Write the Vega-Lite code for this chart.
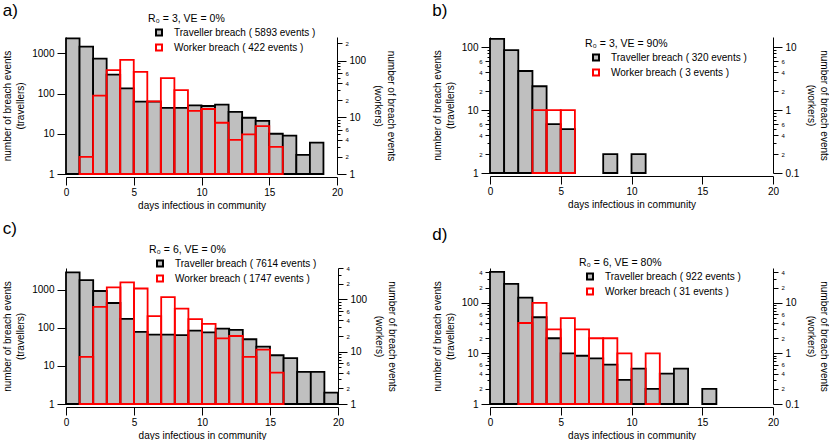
{
  "$schema": "https://vega.github.io/schema/vega-lite/v6.json",
  "padding": {"left": 2, "top": 2, "right": 0, "bottom": 0},
  "background": "white",
  "datasets": {
    "bins": [
      {"panel": "a", "series": "Traveller breach ( 5893 events )", "start": 0, "end": 1, "n": 2350},
      {"panel": "a", "series": "Traveller breach ( 5893 events )", "start": 1, "end": 2, "n": 1460},
      {"panel": "a", "series": "Traveller breach ( 5893 events )", "start": 2, "end": 3, "n": 735},
      {"panel": "a", "series": "Traveller breach ( 5893 events )", "start": 3, "end": 4, "n": 295},
      {"panel": "a", "series": "Traveller breach ( 5893 events )", "start": 4, "end": 5, "n": 135},
      {"panel": "a", "series": "Traveller breach ( 5893 events )", "start": 5, "end": 6, "n": 63},
      {"panel": "a", "series": "Traveller breach ( 5893 events )", "start": 6, "end": 7, "n": 63},
      {"panel": "a", "series": "Traveller breach ( 5893 events )", "start": 7, "end": 8, "n": 44},
      {"panel": "a", "series": "Traveller breach ( 5893 events )", "start": 8, "end": 9, "n": 44},
      {"panel": "a", "series": "Traveller breach ( 5893 events )", "start": 9, "end": 10, "n": 51},
      {"panel": "a", "series": "Traveller breach ( 5893 events )", "start": 10, "end": 11, "n": 49},
      {"panel": "a", "series": "Traveller breach ( 5893 events )", "start": 11, "end": 12, "n": 53},
      {"panel": "a", "series": "Traveller breach ( 5893 events )", "start": 12, "end": 13, "n": 35},
      {"panel": "a", "series": "Traveller breach ( 5893 events )", "start": 13, "end": 14, "n": 25},
      {"panel": "a", "series": "Traveller breach ( 5893 events )", "start": 14, "end": 15, "n": 21},
      {"panel": "a", "series": "Traveller breach ( 5893 events )", "start": 15, "end": 16, "n": 10},
      {"panel": "a", "series": "Traveller breach ( 5893 events )", "start": 16, "end": 17, "n": 9},
      {"panel": "a", "series": "Traveller breach ( 5893 events )", "start": 17, "end": 18, "n": 3},
      {"panel": "a", "series": "Traveller breach ( 5893 events )", "start": 18, "end": 19, "n": 6},
      {"panel": "a", "series": "Worker breach ( 422 events )", "start": 1, "end": 2, "n": 2},
      {"panel": "a", "series": "Worker breach ( 422 events )", "start": 2, "end": 3, "n": 24},
      {"panel": "a", "series": "Worker breach ( 422 events )", "start": 3, "end": 4, "n": 68},
      {"panel": "a", "series": "Worker breach ( 422 events )", "start": 4, "end": 5, "n": 103},
      {"panel": "a", "series": "Worker breach ( 422 events )", "start": 5, "end": 6, "n": 63},
      {"panel": "a", "series": "Worker breach ( 422 events )", "start": 6, "end": 7, "n": 19},
      {"panel": "a", "series": "Worker breach ( 422 events )", "start": 7, "end": 8, "n": 49},
      {"panel": "a", "series": "Worker breach ( 422 events )", "start": 8, "end": 9, "n": 30},
      {"panel": "a", "series": "Worker breach ( 422 events )", "start": 9, "end": 10, "n": 13},
      {"panel": "a", "series": "Worker breach ( 422 events )", "start": 10, "end": 11, "n": 14},
      {"panel": "a", "series": "Worker breach ( 422 events )", "start": 11, "end": 12, "n": 8},
      {"panel": "a", "series": "Worker breach ( 422 events )", "start": 12, "end": 13, "n": 4},
      {"panel": "a", "series": "Worker breach ( 422 events )", "start": 13, "end": 14, "n": 5},
      {"panel": "a", "series": "Worker breach ( 422 events )", "start": 14, "end": 15, "n": 7},
      {"panel": "a", "series": "Worker breach ( 422 events )", "start": 15, "end": 16, "n": 3},
      {"panel": "b", "series": "Traveller breach ( 320 events )", "start": 0, "end": 1, "n": 136},
      {"panel": "b", "series": "Traveller breach ( 320 events )", "start": 1, "end": 2, "n": 90},
      {"panel": "b", "series": "Traveller breach ( 320 events )", "start": 2, "end": 3, "n": 42},
      {"panel": "b", "series": "Traveller breach ( 320 events )", "start": 3, "end": 4, "n": 24},
      {"panel": "b", "series": "Traveller breach ( 320 events )", "start": 4, "end": 5, "n": 6},
      {"panel": "b", "series": "Traveller breach ( 320 events )", "start": 5, "end": 6, "n": 5},
      {"panel": "b", "series": "Traveller breach ( 320 events )", "start": 8, "end": 9, "n": 2},
      {"panel": "b", "series": "Traveller breach ( 320 events )", "start": 10, "end": 11, "n": 2},
      {"panel": "b", "series": "Worker breach ( 3 events )", "start": 3, "end": 4, "n": 1},
      {"panel": "b", "series": "Worker breach ( 3 events )", "start": 4, "end": 5, "n": 1},
      {"panel": "b", "series": "Worker breach ( 3 events )", "start": 5, "end": 6, "n": 1},
      {"panel": "c", "series": "Traveller breach ( 7614 events )", "start": 0, "end": 1, "n": 2835},
      {"panel": "c", "series": "Traveller breach ( 7614 events )", "start": 1, "end": 2, "n": 1787},
      {"panel": "c", "series": "Traveller breach ( 7614 events )", "start": 2, "end": 3, "n": 921},
      {"panel": "c", "series": "Traveller breach ( 7614 events )", "start": 3, "end": 4, "n": 447},
      {"panel": "c", "series": "Traveller breach ( 7614 events )", "start": 4, "end": 5, "n": 171},
      {"panel": "c", "series": "Traveller breach ( 7614 events )", "start": 5, "end": 6, "n": 78},
      {"panel": "c", "series": "Traveller breach ( 7614 events )", "start": 6, "end": 7, "n": 66},
      {"panel": "c", "series": "Traveller breach ( 7614 events )", "start": 7, "end": 8, "n": 66},
      {"panel": "c", "series": "Traveller breach ( 7614 events )", "start": 8, "end": 9, "n": 64},
      {"panel": "c", "series": "Traveller breach ( 7614 events )", "start": 9, "end": 10, "n": 84},
      {"panel": "c", "series": "Traveller breach ( 7614 events )", "start": 10, "end": 11, "n": 76},
      {"panel": "c", "series": "Traveller breach ( 7614 events )", "start": 11, "end": 12, "n": 95},
      {"panel": "c", "series": "Traveller breach ( 7614 events )", "start": 12, "end": 13, "n": 88},
      {"panel": "c", "series": "Traveller breach ( 7614 events )", "start": 13, "end": 14, "n": 50},
      {"panel": "c", "series": "Traveller breach ( 7614 events )", "start": 14, "end": 15, "n": 32},
      {"panel": "c", "series": "Traveller breach ( 7614 events )", "start": 15, "end": 16, "n": 19},
      {"panel": "c", "series": "Traveller breach ( 7614 events )", "start": 16, "end": 17, "n": 16},
      {"panel": "c", "series": "Traveller breach ( 7614 events )", "start": 17, "end": 18, "n": 7},
      {"panel": "c", "series": "Traveller breach ( 7614 events )", "start": 18, "end": 19, "n": 7},
      {"panel": "c", "series": "Traveller breach ( 7614 events )", "start": 19, "end": 20, "n": 2},
      {"panel": "c", "series": "Worker breach ( 1747 events )", "start": 1, "end": 2, "n": 8},
      {"panel": "c", "series": "Worker breach ( 1747 events )", "start": 2, "end": 3, "n": 72},
      {"panel": "c", "series": "Worker breach ( 1747 events )", "start": 3, "end": 4, "n": 171},
      {"panel": "c", "series": "Worker breach ( 1747 events )", "start": 4, "end": 5, "n": 213},
      {"panel": "c", "series": "Worker breach ( 1747 events )", "start": 5, "end": 6, "n": 162},
      {"panel": "c", "series": "Worker breach ( 1747 events )", "start": 6, "end": 7, "n": 48},
      {"panel": "c", "series": "Worker breach ( 1747 events )", "start": 7, "end": 8, "n": 111},
      {"panel": "c", "series": "Worker breach ( 1747 events )", "start": 8, "end": 9, "n": 67},
      {"panel": "c", "series": "Worker breach ( 1747 events )", "start": 9, "end": 10, "n": 42},
      {"panel": "c", "series": "Worker breach ( 1747 events )", "start": 10, "end": 11, "n": 34},
      {"panel": "c", "series": "Worker breach ( 1747 events )", "start": 11, "end": 12, "n": 18},
      {"panel": "c", "series": "Worker breach ( 1747 events )", "start": 12, "end": 13, "n": 20},
      {"panel": "c", "series": "Worker breach ( 1747 events )", "start": 13, "end": 14, "n": 8},
      {"panel": "c", "series": "Worker breach ( 1747 events )", "start": 14, "end": 15, "n": 11},
      {"panel": "c", "series": "Worker breach ( 1747 events )", "start": 15, "end": 16, "n": 4},
      {"panel": "d", "series": "Traveller breach ( 922 events )", "start": 0, "end": 1, "n": 409},
      {"panel": "d", "series": "Traveller breach ( 922 events )", "start": 1, "end": 2, "n": 237},
      {"panel": "d", "series": "Traveller breach ( 922 events )", "start": 2, "end": 3, "n": 127},
      {"panel": "d", "series": "Traveller breach ( 922 events )", "start": 3, "end": 4, "n": 52},
      {"panel": "d", "series": "Traveller breach ( 922 events )", "start": 4, "end": 5, "n": 20},
      {"panel": "d", "series": "Traveller breach ( 922 events )", "start": 5, "end": 6, "n": 10},
      {"panel": "d", "series": "Traveller breach ( 922 events )", "start": 6, "end": 7, "n": 9},
      {"panel": "d", "series": "Traveller breach ( 922 events )", "start": 7, "end": 8, "n": 8},
      {"panel": "d", "series": "Traveller breach ( 922 events )", "start": 8, "end": 9, "n": 6},
      {"panel": "d", "series": "Traveller breach ( 922 events )", "start": 9, "end": 10, "n": 3},
      {"panel": "d", "series": "Traveller breach ( 922 events )", "start": 10, "end": 11, "n": 5},
      {"panel": "d", "series": "Traveller breach ( 922 events )", "start": 11, "end": 12, "n": 2},
      {"panel": "d", "series": "Traveller breach ( 922 events )", "start": 12, "end": 13, "n": 4},
      {"panel": "d", "series": "Traveller breach ( 922 events )", "start": 13, "end": 14, "n": 5},
      {"panel": "d", "series": "Traveller breach ( 922 events )", "start": 15, "end": 16, "n": 2},
      {"panel": "d", "series": "Worker breach ( 31 events )", "start": 2, "end": 3, "n": 4},
      {"panel": "d", "series": "Worker breach ( 31 events )", "start": 3, "end": 4, "n": 10},
      {"panel": "d", "series": "Worker breach ( 31 events )", "start": 4, "end": 5, "n": 3},
      {"panel": "d", "series": "Worker breach ( 31 events )", "start": 5, "end": 6, "n": 5},
      {"panel": "d", "series": "Worker breach ( 31 events )", "start": 6, "end": 7, "n": 3},
      {"panel": "d", "series": "Worker breach ( 31 events )", "start": 7, "end": 8, "n": 2},
      {"panel": "d", "series": "Worker breach ( 31 events )", "start": 8, "end": 9, "n": 2},
      {"panel": "d", "series": "Worker breach ( 31 events )", "start": 9, "end": 10, "n": 1},
      {"panel": "d", "series": "Worker breach ( 31 events )", "start": 11, "end": 12, "n": 1}
    ]
  },
  "data": {"name": "bins"},
  "columns": 2,
  "spacing": {"row": 10, "column": 35},
  "concat": [
    {
      "title": {"text": "a)", "offset": -6},
      "width": 271,
      "height": 137,
      "transform": [{"filter": "datum.panel === 'a'"}],
      "encoding": {
        "x": {"field": "start", "type": "quantitative", "scale": {"domain": [0, 20], "nice": false}, "axis": {"values": [0, 5, 10, 15, 20], "title": "days infectious in community"}},
        "x2": {"field": "end"},
        "fill": {"field": "series", "type": "nominal", "scale": {"range": ["#bfbfbf", "transparent"]}, "legend": {"orient": "none", "legendX": 82, "legendY": -23, "title": "R₀ = 3, VE = 0%", "encode": {"symbols": {"update": {"fill": {"signal": "indexof(datum.value, 'Traveller') === 0 ? '#bfbfbf' : 'white'"}}}}}},
        "stroke": {"field": "series", "type": "nominal", "scale": {"range": ["black", "red"]}, "legend": {"orient": "none", "legendX": 82, "legendY": -23, "title": "R₀ = 3, VE = 0%", "encode": {"symbols": {"update": {"fill": {"signal": "indexof(datum.value, 'Traveller') === 0 ? '#bfbfbf' : 'white'"}}}}}}
      },
      "layer": [
        {
          "transform": [{"filter": "indexof(datum.series, 'Traveller') === 0"}],
          "mark": {"type": "rect", "strokeWidth": 1.8},
          "encoding": {
            "y": {"field": "n", "type": "quantitative", "scale": {"type": "log", "domain": [1, 2540], "nice": false}, "axis": {"orient": "left", "values": [1, 10, 100, 1000], "title": ["number of breach events", "(travellers)"]}},
            "y2": {"datum": 1}
          }
        },
        {
          "transform": [{"filter": "indexof(datum.series, 'Worker') === 0"}],
          "mark": {"type": "rect", "strokeWidth": 1.8},
          "encoding": {
            "y": {"field": "n", "type": "quantitative", "scale": {"type": "log", "domain": [1, 260], "nice": false}, "axis": {"orient": "right", "titlePadding": 7, "values": [1, 2, 3, 4, 5, 6, 7, 8, 9, 10, 20, 30, 40, 50, 60, 70, 80, 90, 100, 200], "title": ["number of breach events", "(workers)"]}},
            "y2": {"datum": 1}
          }
        }
      ],
      "resolve": {"scale": {"y": "independent"}}
    },
    {
      "title": {"text": "b)", "offset": 17},
      "width": 283,
      "height": 136,
      "transform": [{"filter": "datum.panel === 'b'"}],
      "encoding": {
        "x": {"field": "start", "type": "quantitative", "scale": {"domain": [0, 20], "nice": false}, "axis": {"values": [0, 5, 10, 15, 20], "title": "days infectious in community"}},
        "x2": {"field": "end"},
        "fill": {"field": "series", "type": "nominal", "scale": {"range": ["#bfbfbf", "transparent"]}, "legend": {"orient": "none", "legendX": 95, "legendY": 2, "title": "R₀ = 3, VE = 90%", "encode": {"symbols": {"update": {"fill": {"signal": "indexof(datum.value, 'Traveller') === 0 ? '#bfbfbf' : 'white'"}}}}}},
        "stroke": {"field": "series", "type": "nominal", "scale": {"range": ["black", "red"]}, "legend": {"orient": "none", "legendX": 95, "legendY": 2, "title": "R₀ = 3, VE = 90%", "encode": {"symbols": {"update": {"fill": {"signal": "indexof(datum.value, 'Traveller') === 0 ? '#bfbfbf' : 'white'"}}}}}}
      },
      "layer": [
        {
          "transform": [{"filter": "indexof(datum.series, 'Traveller') === 0"}],
          "mark": {"type": "rect", "strokeWidth": 1.8},
          "encoding": {
            "y": {"field": "n", "type": "quantitative", "scale": {"type": "log", "domain": [1, 146], "nice": false}, "axis": {"orient": "left", "values": [1, 2, 3, 4, 5, 6, 7, 8, 9, 10, 20, 30, 40, 50, 60, 70, 80, 90, 100], "title": ["number of breach events", "(travellers)"]}},
            "y2": {"datum": 1}
          }
        },
        {
          "transform": [{"filter": "indexof(datum.series, 'Worker') === 0"}],
          "mark": {"type": "rect", "strokeWidth": 1.8},
          "encoding": {
            "y": {"field": "n", "type": "quantitative", "scale": {"type": "log", "domain": [0.1, 14.6], "nice": false}, "axis": {"orient": "right", "titlePadding": 7, "values": [0.1, 0.2, 0.3, 0.4, 0.5, 0.6, 0.7, 0.8, 0.9, 1, 2, 3, 4, 5, 6, 7, 8, 9, 10], "title": ["number of breach events", "(workers)"]}},
            "y2": {"datum": 0.1}
          }
        }
      ],
      "resolve": {"scale": {"y": "independent"}}
    },
    {
      "title": {"text": "c)", "offset": 7},
      "width": 272,
      "height": 136,
      "transform": [{"filter": "datum.panel === 'c'"}],
      "encoding": {
        "x": {"field": "start", "type": "quantitative", "scale": {"domain": [0, 20], "nice": false}, "axis": {"values": [0, 5, 10, 15, 20], "title": "days infectious in community"}},
        "x2": {"field": "end"},
        "fill": {"field": "series", "type": "nominal", "scale": {"range": ["#bfbfbf", "transparent"]}, "legend": {"orient": "none", "legendX": 83, "legendY": -23, "title": "R₀ = 6, VE = 0%", "encode": {"symbols": {"update": {"fill": {"signal": "indexof(datum.value, 'Traveller') === 0 ? '#bfbfbf' : 'white'"}}}}}},
        "stroke": {"field": "series", "type": "nominal", "scale": {"range": ["black", "red"]}, "legend": {"orient": "none", "legendX": 83, "legendY": -23, "title": "R₀ = 6, VE = 0%", "encode": {"symbols": {"update": {"fill": {"signal": "indexof(datum.value, 'Traveller') === 0 ? '#bfbfbf' : 'white'"}}}}}}
      },
      "layer": [
        {
          "transform": [{"filter": "indexof(datum.series, 'Traveller') === 0"}],
          "mark": {"type": "rect", "strokeWidth": 1.8},
          "encoding": {
            "y": {"field": "n", "type": "quantitative", "scale": {"type": "log", "domain": [1, 3700], "nice": false}, "axis": {"orient": "left", "values": [1, 10, 100, 1000], "title": ["number of breach events", "(travellers)"]}},
            "y2": {"datum": 1}
          }
        },
        {
          "transform": [{"filter": "indexof(datum.series, 'Worker') === 0"}],
          "mark": {"type": "rect", "strokeWidth": 1.8},
          "encoding": {
            "y": {"field": "n", "type": "quantitative", "scale": {"type": "log", "domain": [1, 400], "nice": false}, "axis": {"orient": "right", "titlePadding": 7, "values": [1, 2, 3, 4, 5, 6, 7, 8, 9, 10, 20, 30, 40, 50, 60, 70, 80, 90, 100, 200, 300, 400], "title": ["number of breach events", "(workers)"]}},
            "y2": {"datum": 1}
          }
        }
      ],
      "resolve": {"scale": {"y": "independent"}}
    },
    {
      "title": {"text": "d)", "offset": 14},
      "width": 283,
      "height": 136,
      "transform": [{"filter": "datum.panel === 'd'"}],
      "encoding": {
        "x": {"field": "start", "type": "quantitative", "scale": {"domain": [0, 20], "nice": false}, "axis": {"values": [0, 5, 10, 15, 20], "title": "days infectious in community"}},
        "x2": {"field": "end"},
        "fill": {"field": "series", "type": "nominal", "scale": {"range": ["#bfbfbf", "transparent"]}, "legend": {"orient": "none", "legendX": 89, "legendY": -10, "title": "R₀ = 6, VE = 80%", "encode": {"symbols": {"update": {"fill": {"signal": "indexof(datum.value, 'Traveller') === 0 ? '#bfbfbf' : 'white'"}}}}}},
        "stroke": {"field": "series", "type": "nominal", "scale": {"range": ["black", "red"]}, "legend": {"orient": "none", "legendX": 89, "legendY": -10, "title": "R₀ = 6, VE = 80%", "encode": {"symbols": {"update": {"fill": {"signal": "indexof(datum.value, 'Traveller') === 0 ? '#bfbfbf' : 'white'"}}}}}}
      },
      "layer": [
        {
          "transform": [{"filter": "indexof(datum.series, 'Traveller') === 0"}],
          "mark": {"type": "rect", "strokeWidth": 1.8},
          "encoding": {
            "y": {"field": "n", "type": "quantitative", "scale": {"type": "log", "domain": [1, 490], "nice": false}, "axis": {"orient": "left", "values": [1, 2, 3, 4, 5, 6, 7, 8, 9, 10, 20, 30, 40, 50, 60, 70, 80, 90, 100, 200, 300, 400], "title": ["number of breach events", "(travellers)"]}},
            "y2": {"datum": 1}
          }
        },
        {
          "transform": [{"filter": "indexof(datum.series, 'Worker') === 0"}],
          "mark": {"type": "rect", "strokeWidth": 1.8},
          "encoding": {
            "y": {"field": "n", "type": "quantitative", "scale": {"type": "log", "domain": [0.1, 49], "nice": false}, "axis": {"orient": "right", "titlePadding": 7, "values": [0.1, 0.2, 0.3, 0.4, 0.5, 0.6, 0.7, 0.8, 0.9, 1, 2, 3, 4, 5, 6, 7, 8, 9, 10, 20, 30, 40], "title": ["number of breach events", "(workers)"]}},
            "y2": {"datum": 0.1}
          }
        }
      ],
      "resolve": {"scale": {"y": "independent"}}
    }
  ],
  "resolve": {"scale": {"fill": "independent", "stroke": "independent", "x": "independent"}},
  "config": {
    "font": "Liberation Sans",
    "view": {"stroke": null},
    "title": {"fontSize": 17, "fontWeight": "normal", "anchor": "start", "frame": "bounds", "color": "black"},
    "axis": {
      "grid": false,
      "domainColor": "black",
      "tickColor": "black",
      "labelColor": "black",
      "titleColor": "black",
      "titleFontWeight": "normal",
      "titleFontSize": 10,
      "titleLineHeight": 13,
      "labelFontSize": 10,
      "labelPadding": 3,
      "titlePadding": 6,
      "tickSize": 8,
      "labelOverlap": false,
      "labelFlush": false
    },
    "axisX": {"offset": 3, "titlePadding": 3, "labelPadding": 2},
    "axisY": {
      "labelExpr": "round(datum.value / pow(10, floor(log(datum.value) / LN10 + 1e-6))) == 1 ? format(datum.value, '~g') : (indexof([2, 4, 6], round(datum.value / pow(10, floor(log(datum.value) / LN10 + 1e-6)))) >= 0 ? '' + round(datum.value / pow(10, floor(log(datum.value) / LN10 + 1e-6))) : '')",
      "labelFontSize": {"condition": {"test": "round(datum.value / pow(10, floor(log(datum.value) / LN10 + 1e-6))) == 1", "value": 10}, "value": 6},
      "tickSize": {"condition": [{"test": "round(datum.value / pow(10, floor(log(datum.value) / LN10 + 1e-6))) == 1", "value": 9}, {"test": "indexof([2, 4, 6], round(datum.value / pow(10, floor(log(datum.value) / LN10 + 1e-6)))) >= 0", "value": 5}], "value": 3}
    },
    "legend": {
      "titleFontSize": 10.5,
      "titleFontWeight": "normal",
      "titleColor": "black",
      "labelFontSize": 10,
      "labelColor": "black",
      "symbolType": "square",
      "symbolSize": 36,
      "symbolStrokeWidth": 2,
      "symbolOffset": 6,
      "labelOffset": 10,
      "rowPadding": 1,
      "titlePadding": 3
    }
  }
}
